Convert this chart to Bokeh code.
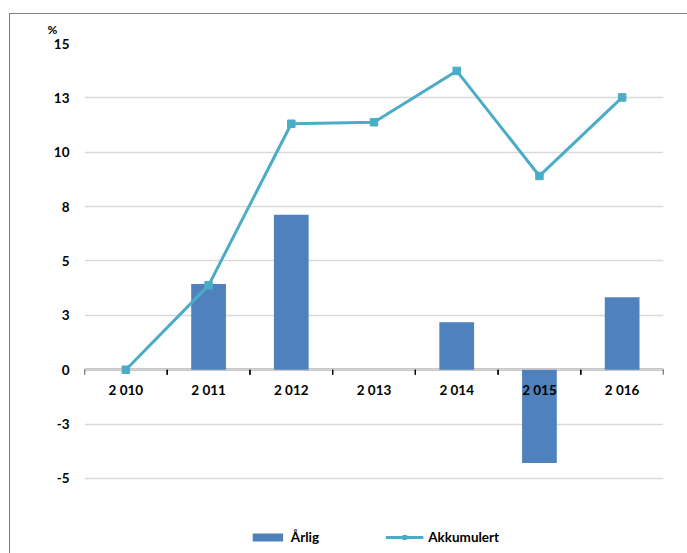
from bokeh.plotting import figure
from bokeh.models import (FactorRange, Range1d, FixedTicker, CustomJSTickFormatter,
                          Legend, LegendItem, ColumnDataSource, InlineStyleSheet)
from bokeh.core.properties import value
from bokeh.transform import dodge
from bokeh.embed import file_html
from bokeh.resources import INLINE

# Data
years = ["2 010", "2 011", "2 012", "2 013", "2 014", "2 015", "2 016"]
annual = [0.0, 3.94, 7.13, 0.0, 2.18, -4.29, 3.33]          # Årlig
accumulated = [0.0, 3.88, 11.31, 11.38, 13.74, 8.91, 12.52]  # Akkumulert
y_ticks = [-5, -2.5, 0, 2.5, 5, 7.5, 10, 12.5, 15]

FONT = "Lato"
BAR = "#4F81BD"
LINE = "#4BACC6"
TICK_LEN = 0.23  # length of the category tick marks, in value units

# the plot area reaches down to the legend row, below the lowest gridline
p = figure(width=687, height=553, x_range=FactorRange(factors=years),
           y_range=Range1d(-8.45, 15), output_backend="svg", toolbar_location=None,
           x_axis_location=None, min_border_left=84, min_border_right=24,
           min_border_top=43, min_border_bottom=0, title="%")
p.outline_line_color = None
p.background_fill_color = "white"
p.border_fill_color = "white"

# "%" unit marker above the value labels
p.title.align = "left"
p.title.offset = -37
p.title.standoff = 14
p.title.text_font = FONT
p.title.text_font_style = "bold"
p.title.text_font_size = "12px"
p.title.text_color = "#000000"

# horizontal gridlines
p.xgrid.grid_line_color = None
p.ygrid.ticker = FixedTicker(ticks=y_ticks)
p.ygrid.grid_line_color = "#D9D9D9"
p.ygrid.grid_line_width = 1.3

# y axis: values rounded to whole percent
yax = p.yaxis[0]
yax.ticker = FixedTicker(ticks=y_ticks)
yax.formatter = CustomJSTickFormatter(
    code="return String(Math.sign(tick) * Math.round(Math.abs(tick)));")
yax.axis_line_color = None
yax.major_tick_line_color = None
yax.minor_tick_line_color = None
yax.major_tick_in = 0
yax.major_tick_out = 0
yax.major_label_standoff = 15
yax.major_label_text_font = FONT
yax.major_label_text_font_style = "bold"
yax.major_label_text_font_size = "13.5px"
yax.major_label_text_color = "#000000"

# zero line under the bars
p.hspan(y=[0], line_color="#000000", line_width=1.3, level="underlay")

# tick marks on the category boundaries
src = ColumnDataSource(data=dict(x=years))
for side in (-0.5, 0.5):
    p.segment(x0=dodge("x", side, range=p.x_range), y0=0,
              x1=dodge("x", side, range=p.x_range), y1=-TICK_LEN,
              source=src, line_color="#000000", line_width=1.3)

bars = p.vbar(x=years, top=annual, bottom=0, width=0.42, fill_color=BAR,
              line_color=None)
line = p.line(x=years, y=accumulated, line_color=LINE, line_width=3)
marks = p.scatter(x=years, y=accumulated, marker="square", size=7.5,
                  fill_color=LINE, line_color=LINE)

# category labels just under the zero line
p.text(x=years, y=0, text=years, y_offset=20, text_align="center",
       text_baseline="middle", text_font=value(FONT), text_font_style="bold",
       text_font_size="13.5px", text_color="#000000")

legend = Legend(items=[LegendItem(label="Årlig", renderers=[bars]),
                       LegendItem(label="Akkumulert", renderers=[line, marks])],
                orientation="horizontal", location="bottom_center", padding=0,
                margin=8, spacing=66, glyph_width=38, glyph_height=10,
                label_height=16, label_standoff=5, label_text_font=FONT,
                label_text_font_style="bold", label_text_font_size="13.5px",
                label_text_color="#000000", border_line_color=None,
                background_fill_alpha=0)
p.add_layout(legend, "center")

# chart-area border along the left and top edges
p.stylesheets = [InlineStyleSheet(css="""
:host { position: relative; }
:host::after {
  content: ""; position: absolute; left: 9px; top: 13px; right: -20px; bottom: -20px;
  border-left: 1.7px solid #7F7F7F; border-top: 1.7px solid #7F7F7F;
  pointer-events: none;
}
""")]

open("out.html", "w").write(file_html(p, INLINE))
